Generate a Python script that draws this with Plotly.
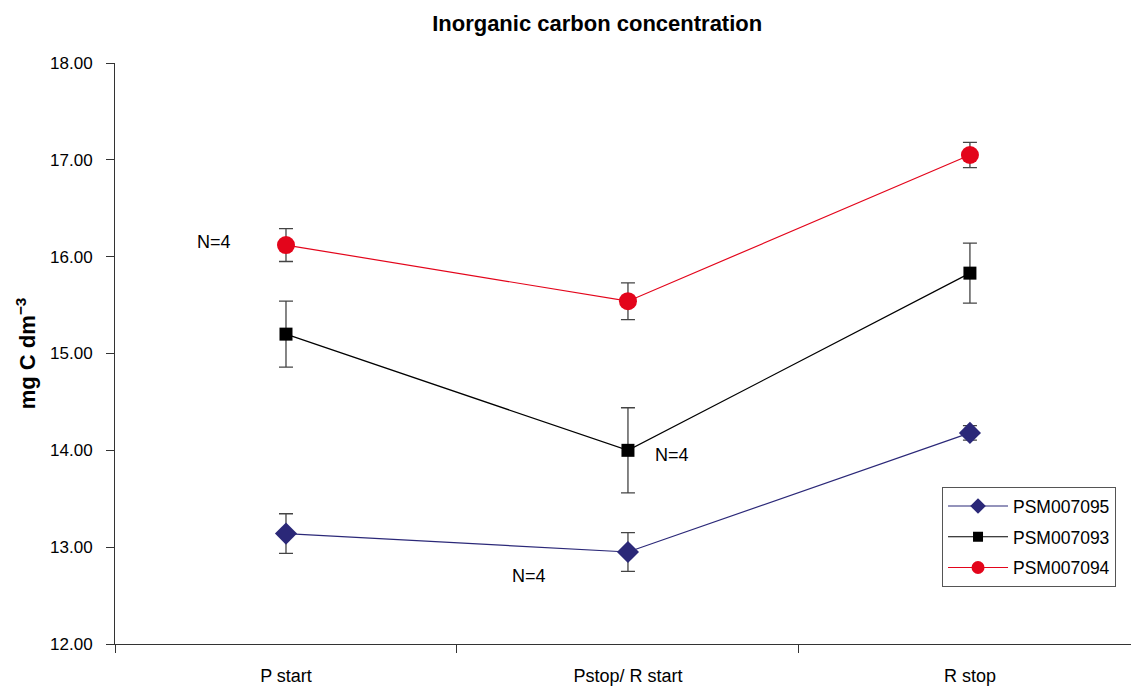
import plotly.graph_objects as go

# Sampling stages along the x axis
stages = ["P start", "Pstop/ R start", "R stop"]
stage_pos = [0, 1, 2]

# Mean inorganic carbon (mg C dm-3) and standard deviation per series
psm007095 = [13.14, 12.95, 14.18]
psm007095_err = [0.205, 0.20, 0.075]
psm007093 = [15.20, 14.00, 15.83]
psm007093_err = [0.34, 0.44, 0.31]
psm007094 = [16.12, 15.54, 17.05]
psm007094_err = [0.17, 0.19, 0.13]

FONT = "Liberation Sans, Arial, sans-serif"

fig = go.Figure()

series = [
    ("PSM007095", psm007095, psm007095_err, "#2B2878", "diamond", 17, 12),
    ("PSM007093", psm007093, psm007093_err, "#000000", "square", 13, 10),
    ("PSM007094", psm007094, psm007094_err, "#E3051B", "circle", 18, 13),
]

for i, (name, vals, errs, color, symbol, size, leg_size) in enumerate(series):
    fig.add_trace(go.Scatter(
        x=stage_pos, y=vals, name=name, mode="lines+markers",
        showlegend=False,
        line=dict(color=color, width=1.2),
        marker=dict(symbol=symbol, size=size, color=color),
        error_y=dict(type="data", array=errs, visible=True,
                     color="#444444", thickness=1.3, width=7),
    ))
    # legend entry with a smaller key symbol
    fig.add_trace(go.Scatter(
        x=[None], y=[None], name=name, mode="lines+markers",
        legendgroup=f"g{i}",
        line=dict(color=color, width=1.2),
        marker=dict(symbol=symbol, size=leg_size, color=color),
    ))

# Sample size notes
notes = [(-0.21, 16.15), (1.13, 13.95), (0.71, 12.70)]
for nx, ny in notes:
    fig.add_annotation(x=nx, y=ny, text="N=4", showarrow=False,
                       font=dict(family=FONT, size=18, color="#000"))

fig.update_layout(
    width=1131, height=687,
    margin=dict(l=115, r=0, t=63, b=43),
    paper_bgcolor="white", plot_bgcolor="white",
    font=dict(family=FONT, size=17, color="#000"),
    title=dict(text="<b>Inorganic carbon concentration</b>", x=0.528, xanchor="center",
               y=0.966, yanchor="middle", font=dict(family=FONT, size=22)),
    showlegend=True,
    legend=dict(x=0.814, y=0.27, xanchor="left", yanchor="top",
                bordercolor="#555555", borderwidth=1, bgcolor="white",
                font=dict(family=FONT, size=17.5), tracegroupgap=5,
                itemwidth=60),
)

fig.update_xaxes(
    range=[-0.5, 2.471], tickvals=stage_pos, ticktext=stages,
    ticks="", showgrid=False, zeroline=False,
    showline=True, linecolor="#333333", linewidth=1,
    ticklabelstandoff=15, automargin=False,
    tickfont=dict(family=FONT, size=18),
    minor=dict(tickvals=[-0.5, 0.5, 1.5], ticks="outside", ticklen=8,
               tickcolor="#333333", showgrid=False),
)

fig.update_yaxes(
    range=[12, 18], tickvals=[12, 13, 14, 15, 16, 17, 18], tickformat=".2f",
    ticks="outside", ticklen=8, tickcolor="#333333",
    showgrid=False, zeroline=False,
    showline=True, linecolor="#333333", linewidth=1,
    ticklabelstandoff=10, automargin=False,
    tickfont=dict(family=FONT, size=17),
    title=dict(text="<b>mg C dm<sup>−3</sup></b>", font=dict(family=FONT, size=22),
               standoff=8),
)

fig.write_html("out.html")
